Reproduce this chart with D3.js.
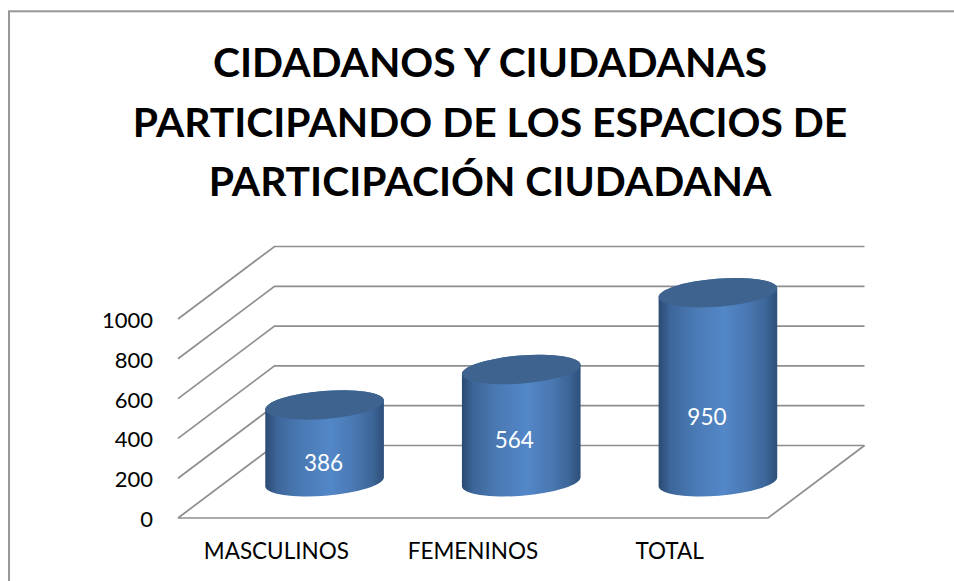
<!DOCTYPE html>
<html>
<head>
<meta charset="utf-8">
<script src="https://cdn.jsdelivr.net/npm/d3@7"></script>
<style>
  html, body { margin: 0; padding: 0; background: #fff; overflow: hidden; }
  svg { display: block; }
  text { font-family: Lato, "Open Sans", sans-serif; }
</style>
</head>
<body>
<div class="box"></div>
<script>
// DATA
const categories = ['MASCULINOS', 'FEMENINOS', 'TOTAL'];
const values = [386, 564, 950];
const yTicks = [0, 200, 400, 600, 800, 1000];
const titleLines = [
  'CIDADANOS Y CIUDADANAS',
  'PARTICIPANDO DE LOS ESPACIOS DE',
  'PARTICIPACIÓN CIUDADANA'
];

// SETUP
const width = 954, height = 581;
const svg = d3.select('.box').append('svg')
              .attr('width', width)
              .attr('height', height);

// front plane of the 3d box, the back plane is the same thing shifted by depth
const front = {left: 178, right: 768, bottom: 518, top: 319};
const depth = {x: 96.5, y: -72.5};

const x = d3.scaleBand().domain(categories).range([front.left, front.right]);
const y = d3.scaleLinear().domain([0, 1000]).range([front.bottom, front.top]);

// chart frame, only left and top show, the rest is cropped
svg.append('rect')
   .attr('x', 9).attr('y', 11.3)
   .attr('width', 960).attr('height', 600)
   .attr('fill', '#fff')
   .attr('stroke', '#979797')
   .attr('stroke-width', 2);

// title
svg.append('g').selectAll('text')
   .data(titleLines)
   .join('text')
   .attr('x', 490)
   .attr('y', (d, i) => 77 + i * 59.5)
   .attr('text-anchor', 'middle')
   .attr('font-size', 40.8)
   .attr('font-weight', 700)
   .attr('fill', '#000')
   .text(d => d);

// walls and floor
const grid = svg.append('g')
                .attr('fill', 'none')
                .attr('stroke', '#8e8e8e')
                .attr('stroke-width', 1.7);

grid.selectAll('path')
    .data(yTicks)
    .join('path')
    .attr('d', d => {
      const p = d3.path();
      p.moveTo(front.left, y(d));
      p.lineTo(front.left + depth.x, y(d) + depth.y);
      p.lineTo(front.right + depth.x, y(d) + depth.y);
      return p.toString();
    });

// floor: front edge and right edge
const floor = d3.path();
floor.moveTo(front.left, front.bottom);
floor.lineTo(front.right, front.bottom);
floor.lineTo(front.right + depth.x, front.bottom + depth.y);
grid.append('path').attr('d', floor.toString());

// axes
const axeY = d3.axisLeft(y).tickValues(yTicks).tickFormat(d3.format('d')).tickSize(0).tickPadding(25);
const axeX = d3.axisBottom(x).tickSize(0).tickPadding(25);

const groupeY = svg.append('g')
                   .attr('transform', `translate(${front.left}, 1.5)`)
                   .call(axeY);
const groupeX = svg.append('g')
                   .attr('transform', `translate(0, ${front.bottom})`)
                   .call(axeX);
groupeY.select('.domain').remove();
groupeX.select('.domain').remove();
groupeY.selectAll('text').attr('font-size', 22).attr('fill', '#000').style('font-family', 'Lato');
groupeX.selectAll('text').attr('font-size', 22.5).attr('fill', '#000').style('font-family', 'Lato');

// cylinder gradient
const defs = svg.append('defs');
const grad = defs.append('linearGradient')
                 .attr('id', 'cyl')
                 .attr('x1', 0).attr('x2', 1).attr('y1', 0).attr('y2', 0);
[[0, '#2b4a72'], [0.1, '#3d669a'], [0.3, '#4a7ab4'], [0.55, '#5387c8'],
 [0.75, '#4a78b2'], [0.9, '#3d6699'], [1, '#2e4f7a']].forEach(s => {
  grad.append('stop').attr('offset', s[0]).attr('stop-color', s[1]);
});

// cylinders
const rx = 59.5, ry = 14;
const tilt = 4.5; // degrees
const ax = rx * Math.cos(tilt * Math.PI / 180);
const ay = rx * Math.sin(tilt * Math.PI / 180);
const cx = d => x(d.cat) + x.bandwidth() / 2 + depth.x / 2;
const baseY = d => y(0) + depth.y / 2;
const topY = d => y(d.val) + depth.y / 2;

const data = categories.map((c, i) => ({cat: c, val: values[i]}));

const bars = svg.append('g').selectAll('g')
                .data(data)
                .join('g');

bars.append('path')
    .attr('fill', 'url(#cyl)')
    .attr('d', d => `M${cx(d) - ax},${topY(d) + ay}`
      + `L${cx(d) - ax},${baseY(d) + ay}`
      + `A${rx},${ry} ${-tilt} 0 0 ${cx(d) + ax},${baseY(d) - ay}`
      + `L${cx(d) + ax},${topY(d) - ay}`
      + `A${rx},${ry} ${-tilt} 0 0 ${cx(d) - ax},${topY(d) + ay}Z`);

bars.append('ellipse')
    .attr('rx', rx)
    .attr('ry', ry)
    .attr('fill', '#3e638f')
    .attr('transform', d => `translate(${cx(d)}, ${topY(d)}) rotate(${-tilt})`);

// value labels, excel does not center them the same way on each column
const labelNudge = [{x: -1, y: 0}, {x: -7, y: 0}, {x: -11, y: 0}];
const labelY = [463, 440, 417];
bars.append('text')
    .attr('x', (d, i) => cx(d) + labelNudge[i].x)
    .attr('y', (d, i) => labelY[i])
    .attr('dy', '0.35em')
    .attr('text-anchor', 'middle')
    .attr('font-size', 22.5)
    .attr('fill', '#fff')
    .text(d => d.val);
</script>
</body>
</html>
